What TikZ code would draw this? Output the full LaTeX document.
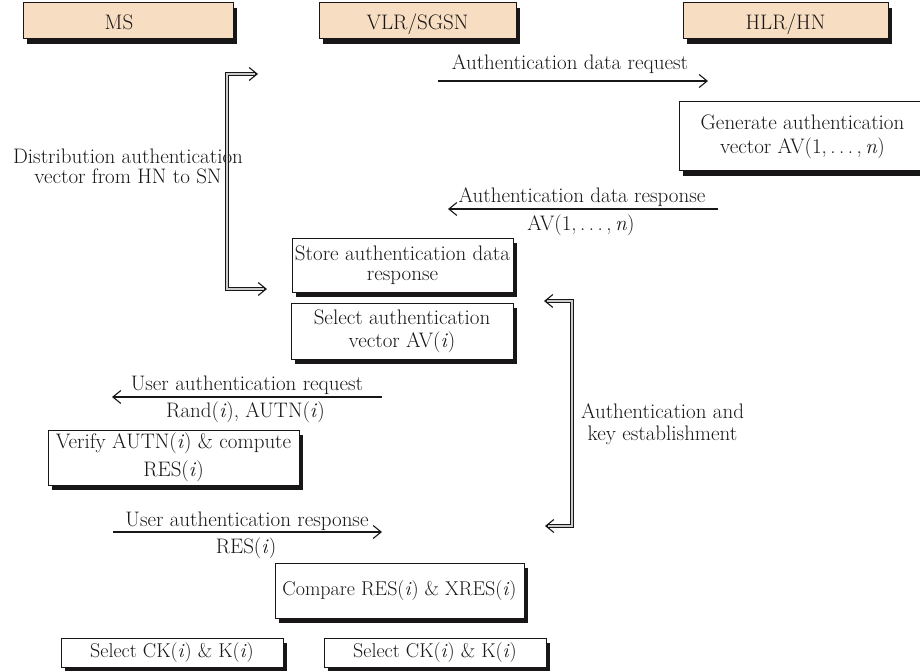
\documentclass[tikz,border=0pt]{standalone}
\usetikzlibrary{arrows.meta,shadows}
\definecolor{peach}{RGB}{247,221,193}
\definecolor{ink}{RGB}{25,22,23}
\newcommand{\avdots}{1,\,.\,.\,.\,,\,\textit{n}}
\begin{document}
\begin{tikzpicture}[x=1pt,y=-1pt,
  every node/.style={font=\fontsize{21}{23}\selectfont, inner sep=0pt, text=ink},
  box/.style={draw=ink, line width=1pt, fill=white, align=center,
    drop shadow={shadow xshift=4pt, shadow yshift=-5pt, fill=ink, opacity=1}},
  hdr/.style={box, fill=peach, minimum height=36pt, text height=18pt, text depth=0pt},
  msg/.style={draw=ink, line width=1.1pt, -{Straight Barb[length=8pt,width=13pt]}},
  brk/.style={draw=ink, double=gray!40, line width=0.9pt, double distance=1.3pt},
  tipar/.style={draw=ink, line width=1.1pt, -{Straight Barb[length=8pt,width=13pt]}},
  lbl/.style={anchor=base}
]
\path[use as bounding box, clip] (0,0) rectangle (920,671);

% header boxes
\node[hdr, minimum width=210pt] (ms) at (128,21) {MS\hspace*{18pt}};
\node[hdr, minimum width=197pt] (vlr) at (417.5,21) {VLR/SGSN};
\node[hdr, minimum width=205pt] (hlr) at (785.5,21) {HLR/HN};

% authentication data request
\coordinate (reqA) at (438,81);
\coordinate (reqB) at (708,81);
\draw[msg] (reqA) -- (reqB);
\node[lbl] (reqL) at (570,70) {Authentication data request};

% generate
\node[box, minimum width=247pt, minimum height=69pt, font=\fontsize{21}{24}\selectfont] (gen) at (802.5,136.5)
  {Generate authentication\\vector AV(\avdots)};

% authentication data response
\coordinate (respA) at (718,209);
\coordinate (respB) at (448,209);
\draw[msg] (respA) -- (respB);
\node[lbl] (respL) at (582,202) {Authentication data response};
\node[lbl] (respL2) at (581,230) {AV(\avdots)};

% distribution label
\node[align=center, font=\fontsize{21}{20}\selectfont] (dist) at (128,166)
  {Distribution authentication\\vector from HN to SN};

% store / select boxes
\node[box, minimum width=221pt, minimum height=54pt, font=\fontsize{21}{20}\selectfont] (store) at (402.5,265)
  {Store authentication data\\response};
\node[box, minimum width=222pt, minimum height=56pt] (selav) at (402,331)
  {Select authentication\\vector AV(\textit{i})};

% left bracket
\coordinate (dT) at (258,74);
\coordinate (dB) at (267,289);
\coordinate (dTc) at (227,74);
\coordinate (dBc) at (227,289);
\draw[brk] ([xshift=-2pt]dT) -- (dTc) -- (dBc) -- ([xshift=-2pt]dB);
\draw[tipar] ([xshift=-3pt]dT) -- (dT);
\draw[tipar] ([xshift=-3pt]dB) -- (dB);

% right bracket
\coordinate (kT) at (544,301);
\coordinate (kB) at (545,526);
\coordinate (kTc) at (572,301);
\coordinate (kBc) at (572,526);
\draw[brk] ([xshift=2pt]kT) -- (kTc) -- (kBc) -- ([xshift=2pt]kB);
\draw[tipar] ([xshift=3pt]kT) -- (kT);
\draw[tipar] ([xshift=3pt]kB) -- (kB);
\node[align=center, font=\fontsize{21}{22}\selectfont] (akey) at (662.5,424)
  {Authentication and\\key establishment};

% user authentication request
\coordinate (uqA) at (382,397);
\coordinate (uqB) at (112,397);
\draw[msg] (uqA) -- (uqB);
\node[lbl] (uqL) at (247,390) {User authentication request};
\node[lbl] (uqL2) at (245.5,417) {Rand(\textit{i}), AUTN(\textit{i})};

% verify
\node[box, minimum width=251pt, minimum height=55pt, font=\fontsize{21}{28}\selectfont] (verify) at (173.5,457.5)
  {Verify AUTN(\textit{i}) \& compute\\RES(\textit{i})};

% user authentication response
\coordinate (urA) at (113,532);
\coordinate (urB) at (382,532);
\draw[msg] (urA) -- (urB);
\node[lbl] (urL) at (247,526) {User authentication response};
\node[lbl] (urL2) at (246,553) {RES(\textit{i})};

% compare
\node[box, minimum width=249pt, minimum height=55pt, font=\fontsize{20}{23}\selectfont] (cmp) at (399.5,590.5)
  {Compare RES(\textit{i}) \& XRES(\textit{i})};

% select CK boxes
\node[box, minimum width=222pt, minimum height=29pt, font=\fontsize{20}{23}\selectfont] (ck1) at (172,652.5) {Select CK(\textit{i}) \& K(\textit{i})};
\node[box, minimum width=222pt, minimum height=29pt, font=\fontsize{20}{23}\selectfont] (ck2) at (435,652.5) {Select CK(\textit{i}) \& K(\textit{i})};
\end{tikzpicture}
\end{document}
